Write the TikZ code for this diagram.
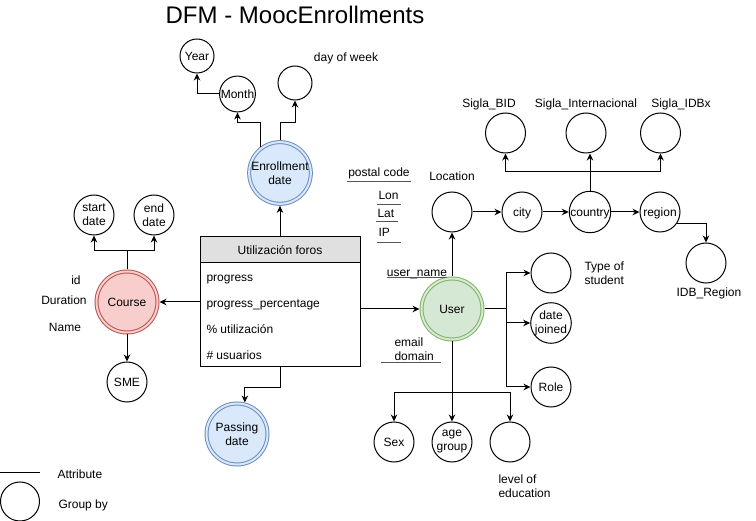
\documentclass[tikz,border=0pt]{standalone}
\usepackage{fontspec}
\setmainfont{Liberation Sans}
\usetikzlibrary{arrows.meta,calc}
\definecolor{bfill}{HTML}{DAE8FC}\definecolor{bline}{HTML}{6C8EBF}
\definecolor{rfill}{HTML}{F8CECC}\definecolor{rline}{HTML}{B85450}
\definecolor{gfill}{HTML}{D5E8D4}\definecolor{gline}{HTML}{82B366}
\definecolor{hdr}{HTML}{E0E0E0}
\definecolor{ul}{HTML}{555555}
\begin{document}
\begin{tikzpicture}[x=1pt,y=-1pt, line width=1pt,
 every node/.style={font=\fontsize{12}{14}\selectfont, inner sep=0pt, text height=10.9pt, text depth=2.5pt},
 ml/.style={align=center, text height={}, text depth={}},
 mll/.style={align=left, text height={}, text depth={}},
 attr/.style={circle,draw,minimum size=40pt},
 sattr/.style={circle,draw,minimum size=34pt},
 dim/.style={circle,draw=#1line,fill=#1fill,double=#1fill,double distance=2pt,minimum size=61pt,outer sep=2pt},
 arr/.style={-{Stealth[length=7pt,width=6.5pt]}},
 uline/.style={draw=ul},
]
\useasboundingbox (0,0) rectangle (756,521);
\node[font=\fontsize{24}{28}\selectfont, text height=21.7pt, text depth=5pt] (title) at (295,15) {DFM - MoocEnrollments};
% date dimension
\node[sattr] (year) at (197,56) {Year};
\node[sattr] (month) at (237.5,94) {Month};
\node[sattr] (dow) at (295,83) {};
\node (dowl) at (346,57) {day of week};
\node[dim=b, ml] (enr) at (280,173) {Enrollment\\date};
% table
\node[draw, fill=hdr, minimum width=160pt, minimum height=26pt] (tabh) at (280,250) {Utilización foros};
\node[draw, minimum width=160pt, minimum height=104pt] (tabb) at (280,315) {};
\node[anchor=west] (r1) at (206,277) {progress};
\node[anchor=west] (r2) at (206,303) {progress\_percentage};
\node[anchor=west] (r3) at (206,329) {\% utilización};
\node[anchor=west] (r4) at (206,355) {\# usuarios};
% course
\node[dim=r] (course) at (127,302) {Course};
\node[attr, ml] (start) at (94,215) {start\\date};
\node[attr, ml] (end) at (154,215) {end\\date};
\node[attr] (sme) at (127,382) {SME};
\node (lid) at (76,280) {id};
\node (ldur) at (64,300) {Duration};
\node (lname) at (65,327) {Name};
% passing
\node[dim=b, ml] (pass) at (237,434) {Passing\\date};
% user
\node[dim=g] (user) at (452,309) {User};
\node[attr] (loc) at (452,212) {};
\node (locl) at (452,176) {Location};
\node[attr] (city) at (522,212) {city};
\node[attr] (country) at (590,212) {country};
\node[attr] (region) at (660,212) {region};
\node[attr] (sbid) at (505.5,133) {};
\node[attr] (sint) at (586,133) {};
\node[attr] (sidbx) at (660.5,133) {};
\node (sbidl) at (489,103) {Sigla\_BID};
\node (sintl) at (586,103) {Sigla\_Internacional};
\node (sidbxl) at (681,103) {Sigla\_IDBx};
\node[attr] (idb) at (706,263) {};
\node (idbl) at (709,292) {IDB\_Region};
\node[attr] (tos) at (551,273) {};
\node[anchor=west, mll] (tosl) at (584,273) {Type of\\student};
\node[attr, ml] (dj) at (551,323) {date\\joined};
\node[attr] (role) at (551,387) {Role};
\node[attr] (sex) at (394,442) {Sex};
\node[attr, ml] (age) at (452,442) {age\\group};
\node[attr] (loe) at (510,442) {};
\node[anchor=west, mll] (loel) at (498,486) {level of\\education};
% attribute labels
\node (pc) at (379,172) {postal code};
\draw[uline] (347,182) -- (411,182);
\node[anchor=west] (lon) at (378,195) {Lon};
\draw[uline] (377,205) -- (401,205);
\node[anchor=west] (lat) at (377,213) {Lat};
\draw[uline] (376,222) -- (398,222);
\node[anchor=west] (ip) at (378,232) {IP};
\draw[uline] (377,243) -- (401,243);
\node (un) at (417,272) {user\_name};
\draw[uline] (387,278) -- (447,278);
\node[anchor=west, mll] (em) at (394,349) {email\\domain};
\draw[uline] (381,363) -- (441,363);
% legend
\draw (0,473) -- (40,473);
\node[anchor=west] (attrl) at (57,474) {Attribute};
\node[circle,draw,minimum size=39pt] (leg) at (20,501.5) {};
\node[anchor=west] (grpl) at (58,504) {Group by};
% connectors
\draw[arr] (tabh.north) -- (enr.south);
\draw[arr] (enr.127) -- ++(0,-24) -| (month.south);
\draw[arr] (enr.north) -- ++(0,-18) -| (dow.south);
\draw[arr] (month.west) -| (year.south);
\draw[arr] (tabb.west |- course) -- (course.east);
\draw[arr] (tabb.east |- user) -- (user.west);
\draw[arr] (tabb.south) -- ++(0,20) -| (pass.76);
\draw (course.north) -- ++(0,-19) coordinate (cj);
\draw[arr] (cj) -| (start.south);
\draw[arr] (cj) -| (end.south);
\draw[arr] (course.south) -- (sme.north);
\draw[arr] (user.north) -- (loc.south);
\draw[arr] (loc.east) -- (city.west);
\draw[arr] (city.east) -- (country.west);
\draw[arr] (country.east) -- (region.west);
\draw (country.north) -- ++(0,-19) coordinate (kj);
\draw[arr] (kj) -| (sbid.south);
\draw[arr] (kj) -| (sidbx.south);
\draw[arr] (kj) -- (kj |- sint.south);
\draw[arr] (region.-33) -| (idb.north);
\draw (user.east) -- ++(22,0) coordinate (uj);
\draw[arr] (uj) |- (tos.west);
\draw[arr] (uj) |- (dj.west);
\draw[arr] (uj) |- (role.west);
\draw[arr] (user.south) -- (age.north);
\coordinate (ud) at (452,393);
\draw[arr] (ud) -| (sex.north);
\draw[arr] (ud) -| (loe.north);
\end{tikzpicture}
\end{document}
